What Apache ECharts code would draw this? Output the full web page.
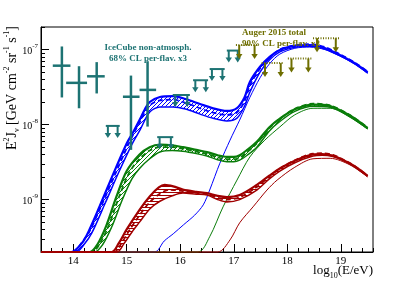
<!DOCTYPE html>
<html><head><meta charset="utf-8">
<script src="https://cdn.jsdelivr.net/npm/echarts@6/dist/echarts.min.js"></script>
<style>html,body{margin:0;padding:0;background:#fff}#c{width:415px;height:281px}</style>
</head><body><div id="c"></div>
<script>
// ---------- data ----------
const xMajorTicks = [14, 15, 16, 17, 18, 19];
const yMajorTicks = [1e-9, 1e-8, 1e-7];
const yTickExp = ['-9', '-8', '-7'];

const blueHi = [[13.4,2e-10],[13.97,2e-10],[14.12,2.4e-10],[14.25,3.3e-10],[14.5,8.3e-10],[14.75,2.2e-9],[15.0,5.6e-9],[15.12,7.9e-9],[15.24,1.15e-8],[15.34,1.6e-8],[15.43,2.0e-8],[15.62,2.33e-8],[15.87,2.4e-8],[16.1,2.19e-8],[16.37,1.88e-8],[16.6,1.66e-8],[16.87,1.52e-8],[17.06,1.66e-8],[17.2,2.3e-8],[17.3,3.7e-8],[17.49,5.9e-8],[17.67,8.0e-8],[17.86,9.9e-8],[18.14,1.12e-7],[18.42,1.15e-7],[18.7,1.05e-7],[18.98,8.5e-8],[19.26,6.6e-8],[19.5,5.0e-8]];
const blueLo = [[13.4,2e-10],[14.05,2e-10],[14.2,2.5e-10],[14.35,3.6e-10],[14.6,9e-10],[14.85,2.3e-9],[15.1,5.5e-9],[15.25,8.5e-9],[15.43,1.47e-8],[15.62,1.72e-8],[15.87,1.72e-8],[16.1,1.61e-8],[16.37,1.38e-8],[16.6,1.22e-8],[16.87,1.12e-8],[17.06,1.22e-8],[17.2,1.75e-8],[17.3,2.7e-8],[17.49,5.0e-8],[17.67,7.3e-8],[17.86,9.3e-8],[18.14,1.07e-7],[18.42,1.11e-7],[18.7,1.02e-7],[18.98,8.3e-8],[19.26,6.45e-8],[19.5,4.9e-8]];
const blueDash = [[13.4,2e-10],[14.0,2e-10],[14.15,2.6e-10],[14.3,3.7e-10],[14.55,9e-10],[14.8,2.3e-9],[15.05,5.8e-9],[15.25,1.1e-8],[15.43,1.8e-8],[15.62,2.1e-8],[15.87,2.15e-8],[16.1,1.95e-8],[16.37,1.65e-8],[16.6,1.45e-8],[16.87,1.35e-8],[17.06,1.45e-8],[17.2,2.05e-8],[17.3,3.3e-8],[17.49,5.6e-8],[17.67,7.8e-8],[17.86,1.0e-7],[18.14,1.14e-7],[18.42,1.18e-7],[18.7,1.08e-7],[18.98,8.7e-8],[19.26,6.7e-8],[19.5,5.1e-8]];
const blueThin = [[13.4,2e-10],[15.52,2e-10],[15.7,2.8e-10],[15.87,3.5e-10],[16.06,4.6e-10],[16.27,6.2e-10],[16.43,8.5e-10],[16.55,1.34e-9],[16.74,3.05e-9],[16.93,6.2e-9],[17.11,1.15e-8],[17.3,2.3e-8],[17.49,4.2e-8],[17.67,6.5e-8],[17.86,8.7e-8],[18.14,1.04e-7],[18.42,1.08e-7],[18.7,1.0e-7],[18.98,8.2e-8],[19.26,6.4e-8],[19.5,4.8e-8]];

const greenHi = [[13.4,2e-10],[14.31,2e-10],[14.45,2.5e-10],[14.62,4.5e-10],[14.81,1.1e-9],[15.0,2.4e-9],[15.24,4.0e-9],[15.43,5.0e-9],[15.62,5.4e-9],[15.85,5.3e-9],[16.05,5.0e-9],[16.3,4.6e-9],[16.5,4.3e-9],[16.7,3.9e-9],[16.87,3.7e-9],[17.0,3.7e-9],[17.11,3.9e-9],[17.25,4.6e-9],[17.43,5.9e-9],[17.67,9.3e-9],[17.86,1.2e-8],[18.14,1.6e-8],[18.48,1.85e-8],[18.8,1.77e-8],[19.17,1.32e-8],[19.5,9.0e-9]];
const greenLo = [[13.4,2e-10],[14.4,2e-10],[14.55,2.5e-10],[14.72,4.3e-10],[14.92,1.0e-9],[15.1,1.9e-9],[15.24,2.6e-9],[15.43,3.5e-9],[15.62,4.3e-9],[15.85,4.5e-9],[16.05,4.4e-9],[16.3,4.1e-9],[16.5,3.8e-9],[16.7,3.4e-9],[16.87,3.2e-9],[17.0,3.2e-9],[17.11,3.35e-9],[17.25,3.9e-9],[17.43,5.0e-9],[17.67,8.3e-9],[17.86,1.1e-8],[18.14,1.5e-8],[18.48,1.75e-8],[18.8,1.7e-8],[19.17,1.28e-8],[19.5,8.8e-9]];
const greenDash = [[13.4,2e-10],[14.35,2e-10],[14.5,2.6e-10],[14.67,4.6e-10],[14.86,1.1e-9],[15.05,2.3e-9],[15.24,3.5e-9],[15.43,4.5e-9],[15.62,5.0e-9],[15.85,5.0e-9],[16.05,4.75e-9],[16.3,4.35e-9],[16.5,4.05e-9],[16.7,3.65e-9],[16.87,3.45e-9],[17.0,3.45e-9],[17.11,3.6e-9],[17.25,4.3e-9],[17.43,5.6e-9],[17.67,9.0e-9],[17.86,1.2e-8],[18.14,1.62e-8],[18.48,1.9e-8],[18.8,1.8e-8],[19.17,1.34e-8],[19.5,9.1e-9]];
const greenThin = [[13.4,2e-10],[16.33,2e-10],[16.55,3.2e-10],[16.8,8e-10],[17.06,1.82e-9],[17.3,3.7e-9],[17.58,6.2e-9],[17.86,9.3e-9],[18.14,1.35e-8],[18.48,1.65e-8],[18.8,1.65e-8],[19.17,1.25e-8],[19.5,8.7e-9]];

const redHi = [[13.4,2e-10],[14.72,2e-10],[14.85,2.6e-10],[15.0,4.0e-10],[15.24,7.3e-10],[15.43,1.1e-9],[15.6,1.45e-9],[15.71,1.57e-9],[15.87,1.5e-9],[16.05,1.36e-9],[16.3,1.27e-9],[16.5,1.22e-9],[16.7,1.12e-9],[16.87,1.08e-9],[17.11,1.15e-9],[17.43,1.57e-9],[17.67,2.1e-9],[17.86,2.6e-9],[18.14,3.3e-9],[18.48,4.0e-9],[18.65,4.05e-9],[18.85,3.85e-9],[19.05,3.35e-9],[19.25,2.8e-9],[19.5,2.07e-9]];
const redLo = [[13.4,2e-10],[14.82,2e-10],[14.95,2.6e-10],[15.1,3.7e-10],[15.24,5.0e-10],[15.43,7.5e-10],[15.62,9.5e-10],[15.85,1.12e-9],[16.05,1.22e-9],[16.3,1.18e-9],[16.5,1.15e-9],[16.7,1.0e-9],[16.87,9.3e-10],[17.11,1.0e-9],[17.43,1.34e-9],[17.67,1.9e-9],[17.86,2.4e-9],[18.14,3.1e-9],[18.48,3.8e-9],[18.65,3.9e-9],[18.85,3.75e-9],[19.05,3.3e-9],[19.25,2.75e-9],[19.5,2.05e-9]];
const redDash = [[13.4,2e-10],[14.77,2e-10],[14.9,2.6e-10],[15.05,3.9e-10],[15.24,6.2e-10],[15.43,9.2e-10],[15.62,1.2e-9],[15.8,1.35e-9],[16.05,1.3e-9],[16.3,1.23e-9],[16.5,1.18e-9],[16.7,1.06e-9],[16.87,1.0e-9],[17.11,1.07e-9],[17.43,1.47e-9],[17.67,2.05e-9],[17.86,2.6e-9],[18.14,3.35e-9],[18.48,4.1e-9],[18.65,4.15e-9],[18.85,3.95e-9],[19.05,3.4e-9],[19.25,2.82e-9],[19.5,2.08e-9]];
const redThin = [[13.4,2e-10],[16.70,2e-10],[16.93,2.9e-10],[17.11,4.9e-10],[17.36,8.0e-10],[17.62,1.34e-9],[17.81,1.82e-9],[18.14,2.7e-9],[18.48,3.5e-9],[18.8,3.55e-9],[19.17,2.9e-9],[19.5,2.0e-9]];

// IceCube points: [x, y, xlo, xhi, ylo, yhi]
const iceCubePoints = [[13.79,6.1e-8,13.62,13.95,2.3e-8,1.1e-7],[14.11,3.6e-8,13.87,14.26,1.65e-8,6.0e-8],[14.44,4.4e-8,14.26,14.59,2.6e-8,6.8e-8],[15.08,2.35e-8,14.93,15.24,4.6e-9,4.5e-8],[15.39,2.9e-8,15.24,15.55,9.4e-9,7.0e-8]];
// upper limits: [xlo, xhi, y]
const iceCubeLimits = [[14.61,14.87,9.6e-9],[15.57,15.87,6.8e-9],[15.86,16.18,2.48e-8],[16.24,16.52,3.9e-8],[16.55,16.83,5.5e-8],[16.87,17.11,9.7e-8]];
const augerLimits = [[17.04,17.45,1.15e-7],[17.52,17.94,6.6e-8],[18.01,18.46,7.6e-8],[18.48,18.98,1.42e-7]];

// ---------- styling ----------
const FONT = "'Liberation Serif','DejaVu Serif',serif";
const BLUE = '#0000ff', GREEN = '#0a7d0a', RED = '#a00000', TEAL = '#1d7373', OLIVE = '#6e6e00';

function hatch(color, kind) {
  const c = document.createElement('canvas');
  const n = kind === 'h' ? 3 : 4;
  c.width = n; c.height = n;
  const g = c.getContext('2d');
  g.strokeStyle = color; g.fillStyle = color; g.lineWidth = 1;
  if (kind === 'h') { g.fillRect(0, 0, n, 1); }
  else {
    g.beginPath();
    g.moveTo(-1, n + 1); g.lineTo(n + 1, -1);
    g.moveTo(-1, 1); g.lineTo(1, -1);
    g.moveTo(n - 1, n + 1); g.lineTo(n + 1, n - 1);
    g.stroke();
  }
  return { image: c, repeat: 'repeat' };
}

function band(hi, lo, color, kind) {
  const pat = hatch(color, kind);
  return {
    type: 'custom', data: hi, clip: true, silent: true, z: 1,
    encode: { x: 0, y: 1 },
    renderItem(params, api) {
      if (params.dataIndex !== 0) return null;
      const pts = hi.map(p => api.coord(p)).concat(lo.slice().reverse().map(p => api.coord(p)));
      return { type: 'polygon', shape: { points: pts, smooth: 0.25 }, style: { fill: pat, stroke: null } };
    }
  };
}
function line(data, color, width, type, z) {
  return { type: 'line', data, showSymbol: false, symbol: 'none', smooth: 0.3, silent: true, clip: false, z: z || 3,
    lineStyle: { color, width, type: type || 'solid' } };
}

function ulSeries(data, color, len, dotted) {
  return {
    type: 'custom', data, silent: true, z: 6, clip: false,
    encode: { x: [0, 1], y: 2 },
    renderItem(params, api) {
      const xlo = api.value(0), xhi = api.value(1), y = api.value(2);
      const a = api.coord([xlo, y]), b = api.coord([xhi, y]);
      const w = b[0] - a[0];
      const xs = [a[0] + w * 0.15, b[0] - w * 0.15];
      const ch = [{ type: 'line', shape: { x1: a[0], y1: a[1], x2: b[0], y2: b[1] },
        style: { stroke: color, lineWidth: 2, lineDash: dotted ? [1, 1.5] : null } }];
      xs.forEach(x => {
        ch.push({ type: 'line', shape: { x1: x, y1: a[1], x2: x, y2: a[1] + len - 4 }, style: { stroke: color, lineWidth: 2 } });
        ch.push({ type: 'polygon', shape: { points: [[x - 3.2, a[1] + len - 5], [x + 3.2, a[1] + len - 5], [x, a[1] + len]] }, style: { fill: color } });
      });
      return { type: 'group', children: ch };
    }
  };
}

const crossSeries = {
  type: 'custom', data: iceCubePoints, silent: true, z: 6,
  encode: { x: 0, y: 1 },
  renderItem(params, api) {
    const x = api.value(0), y = api.value(1);
    const h1 = api.coord([api.value(2), y]), h2 = api.coord([api.value(3), y]);
    const v1 = api.coord([x, api.value(4)]), v2 = api.coord([x, api.value(5)]);
    const st = { stroke: TEAL, lineWidth: 2.5 };
    return { type: 'group', children: [
      { type: 'line', shape: { x1: h1[0], y1: h1[1], x2: h2[0], y2: h2[1] }, style: st },
      { type: 'line', shape: { x1: v1[0], y1: v1[1], x2: v2[0], y2: v2[1] }, style: st }
    ] };
  }
};

// minor ticks
const xMinor = [];
for (let k = 67; k <= 98; k++) { const v = Math.round(k * 2) / 10; if (v % 1 !== 0) xMinor.push(v); }
const yMinor = [];
[-10, -9, -8, -7].forEach(e => { for (let m = 2; m <= 9; m++) { const v = m * Math.pow(10, e); if (v >= 2e-10 && v <= 2e-7) yMinor.push(v); } });

const axisCommon = { axisLine: { show: false }, splitLine: { show: false } };
const option = {
  animation: false,
  backgroundColor: '#fff',
  grid: { left: 41, right: 42, top: 27, bottom: 29, show: true, borderColor: '#000', borderWidth: 1, backgroundColor: 'transparent' },
  xAxis: [
    { type: 'value', min: 13.4, max: 19.6, position: 'bottom',
      axisLine: { show: true, onZero: false, lineStyle: { color: '#000', width: 1 } },
      axisTick: { inside: true, length: 8, customValues: xMajorTicks, lineStyle: { color: '#000' } },
      axisLabel: { customValues: xMajorTicks, color: '#000', fontFamily: FONT, fontSize: 11, margin: 4 },
      splitLine: { show: false } },
    Object.assign({ type: 'value', min: 13.4, max: 19.6, position: 'bottom',
      axisTick: { inside: true, length: 4, customValues: xMinor, lineStyle: { color: '#000' } },
      axisLabel: { show: false } }, axisCommon)
  ],
  yAxis: [
    { type: 'log', logBase: 10, min: 2e-10, max: 2e-7, position: 'left',
      axisLine: { show: true, onZero: false, lineStyle: { color: '#000', width: 1 } },
      axisTick: { inside: true, length: 8, customValues: yMajorTicks, lineStyle: { color: '#000' } },
      axisLabel: { customValues: yMajorTicks, margin: 3, color: '#000',
        formatter: v => { const i = yMajorTicks.findIndex(t => Math.abs(t - v) / t < 1e-6); return '{b|10}{s|' + (i >= 0 ? yTickExp[i] : '') + '}'; },
        rich: { b: { fontFamily: FONT, fontSize: 10, color: '#000', verticalAlign: 'bottom', lineHeight: 14 },
                s: { fontFamily: FONT, fontSize: 7, color: '#000', verticalAlign: 'top', lineHeight: 14 } } },
      splitLine: { show: false } },
    Object.assign({ type: 'log', logBase: 10, min: 2e-10, max: 2e-7, position: 'left',
      axisTick: { inside: true, length: 4, customValues: yMinor, lineStyle: { color: '#000' } },
      axisLabel: { show: false } }, axisCommon)
  ],
  series: [
    band(blueHi, blueLo, BLUE, 'd'),
    band(greenHi, greenLo, GREEN, 'd'),
    band(redHi, redLo, RED, 'h'),
    line(blueThin, BLUE, 1), line(greenThin, GREEN, 1), line(redThin, RED, 1),
    line(blueLo, BLUE, 1.5), line(greenLo, GREEN, 1.5), line(redLo, RED, 1.5),
    line(blueDash, BLUE, 1.8, [5, 3]), line(greenDash, GREEN, 1.8, [5, 3]), line(redDash, RED, 1.8, [5, 3]),
    line(blueHi, BLUE, 2.2), line(greenHi, GREEN, 2.2), line(redHi, RED, 2.2),
    crossSeries,
    ulSeries(iceCubeLimits, TEAL, 12, false),
    ulSeries(augerLimits, OLIVE, 14, true)
  ],
  graphic: [
    { type: 'text', x: 148, y: 47.5, z: 10, style: { text: 'IceCube non-atmosph.', font: 'bold 9px ' + FONT, fill: TEAL, align: 'center', verticalAlign: 'middle' } },
    { type: 'text', x: 148, y: 58.5, z: 10, style: { text: '68% CL per-flav. x3', font: 'bold 9px ' + FONT, fill: TEAL, align: 'center', verticalAlign: 'middle' } },
    { type: 'text', x: 274, y: 33, z: 10, style: { text: 'Auger 2015 total', font: 'bold 9px ' + FONT, fill: OLIVE, align: 'center', verticalAlign: 'middle' } },
    { type: 'text', x: 281, y: 44, z: 10, style: { text: '90% CL per-flav. x3', font: 'bold 9px ' + FONT, fill: OLIVE, align: 'center', verticalAlign: 'middle' } },
    { type: 'text', x: 373, y: 271, z: 10, style: { text: 'log{sub|10}(E/eV)', align: 'right', verticalAlign: 'middle', font: '13px ' + FONT, fill: '#000',
      rich: { sub: { fontFamily: FONT, fontSize: 8, verticalAlign: 'bottom', lineHeight: 18, fill: '#000' } } } },
    { type: 'text', x: 12, y: 26, rotation: Math.PI / 2, z: 10, style: { text: 'E{sup|2}J{sub|ν} [GeV cm{sup|-2} sr{sup|-1} s{sup|-1}]', align: 'right', verticalAlign: 'middle',
      font: '14px ' + FONT, fill: '#000',
      rich: { sup: { fontFamily: FONT, fontSize: 8, verticalAlign: 'top', lineHeight: 18, fill: '#000' },
              sub: { fontFamily: FONT, fontSize: 8, verticalAlign: 'bottom', lineHeight: 18, fill: '#000' } } } }
  ]
};
const chart = echarts.init(document.getElementById('c'), null, { renderer: 'canvas' });
chart.setOption(option);
</script></body></html>
